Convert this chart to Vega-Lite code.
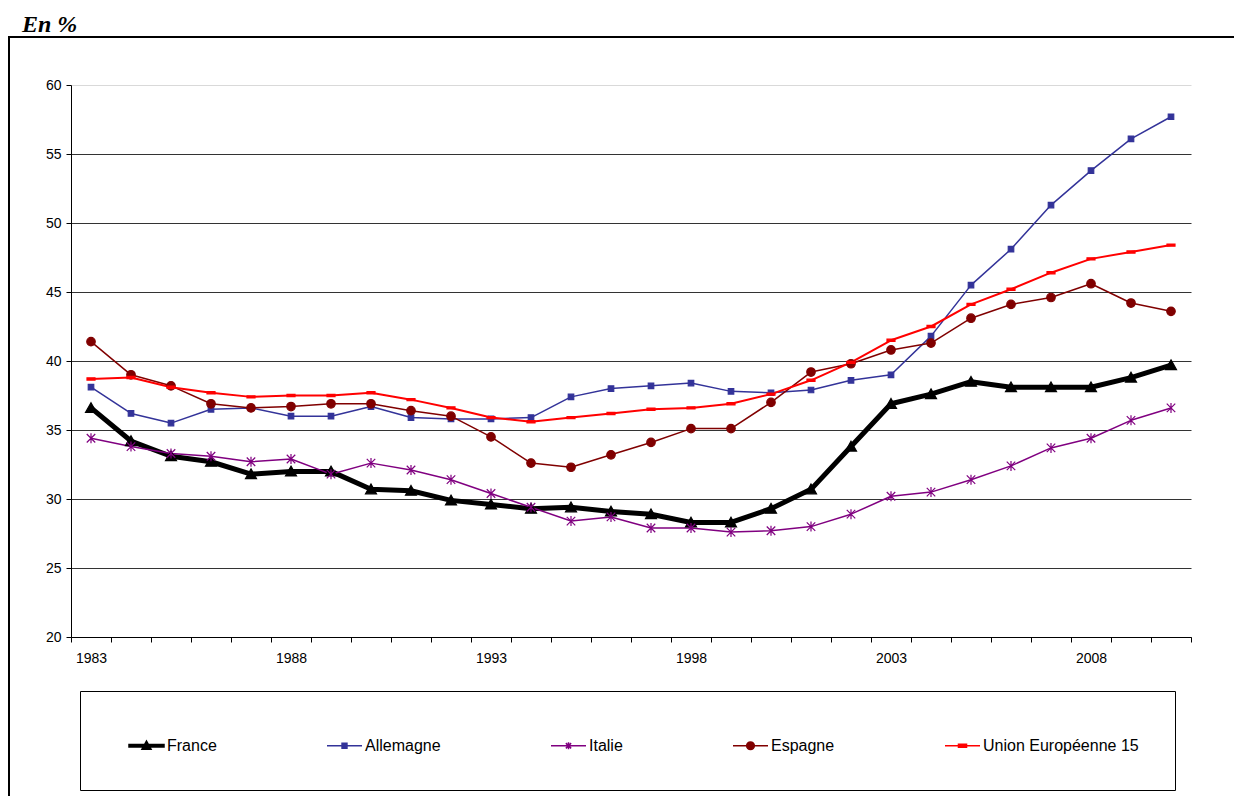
{
  "$schema": "https://vega.github.io/schema/vega-lite/v6.json",
  "width": 1225,
  "height": 759,
  "autosize": {"type": "none"},
  "padding": {"left": 9, "top": 37, "right": 0, "bottom": 0},
  "background": "white",
  "title": {"text": "En %", "anchor": "start", "frame": "group", "font": "Liberation Serif", "fontSize": 24, "fontWeight": "bold", "fontStyle": "italic", "color": "black", "dx": 13, "dy": 25, "offset": 6, "baseline": "alphabetic"},
  "config": {
    "view": {"stroke": "black", "strokeWidth": 2, "strokeDash": [1225, 1984, 760, 5000]},
    "font": "Liberation Sans"
  },
  "data": {"values": [
    {"annee":1983,"pays":"France","valeur":36.6},{"annee":1984,"pays":"France","valeur":34.2},{"annee":1985,"pays":"France","valeur":33.1},{"annee":1986,"pays":"France","valeur":32.7},{"annee":1987,"pays":"France","valeur":31.8},{"annee":1988,"pays":"France","valeur":32.0},{"annee":1989,"pays":"France","valeur":32.0},{"annee":1990,"pays":"France","valeur":30.7},{"annee":1991,"pays":"France","valeur":30.6},{"annee":1992,"pays":"France","valeur":29.9},{"annee":1993,"pays":"France","valeur":29.6},{"annee":1994,"pays":"France","valeur":29.3},{"annee":1995,"pays":"France","valeur":29.4},{"annee":1996,"pays":"France","valeur":29.1},{"annee":1997,"pays":"France","valeur":28.9},{"annee":1998,"pays":"France","valeur":28.3},{"annee":1999,"pays":"France","valeur":28.3},{"annee":2000,"pays":"France","valeur":29.3},{"annee":2001,"pays":"France","valeur":30.7},{"annee":2002,"pays":"France","valeur":33.8},{"annee":2003,"pays":"France","valeur":36.9},{"annee":2004,"pays":"France","valeur":37.6},{"annee":2005,"pays":"France","valeur":38.5},{"annee":2006,"pays":"France","valeur":38.1},{"annee":2007,"pays":"France","valeur":38.1},{"annee":2008,"pays":"France","valeur":38.1},{"annee":2009,"pays":"France","valeur":38.8},{"annee":2010,"pays":"France","valeur":39.7},
    {"annee":1983,"pays":"Allemagne","valeur":38.1},{"annee":1984,"pays":"Allemagne","valeur":36.2},{"annee":1985,"pays":"Allemagne","valeur":35.5},{"annee":1986,"pays":"Allemagne","valeur":36.5},{"annee":1987,"pays":"Allemagne","valeur":36.6},{"annee":1988,"pays":"Allemagne","valeur":36.0},{"annee":1989,"pays":"Allemagne","valeur":36.0},{"annee":1990,"pays":"Allemagne","valeur":36.7},{"annee":1991,"pays":"Allemagne","valeur":35.9},{"annee":1992,"pays":"Allemagne","valeur":35.8},{"annee":1993,"pays":"Allemagne","valeur":35.8},{"annee":1994,"pays":"Allemagne","valeur":35.9},{"annee":1995,"pays":"Allemagne","valeur":37.4},{"annee":1996,"pays":"Allemagne","valeur":38.0},{"annee":1997,"pays":"Allemagne","valeur":38.2},{"annee":1998,"pays":"Allemagne","valeur":38.4},{"annee":1999,"pays":"Allemagne","valeur":37.8},{"annee":2000,"pays":"Allemagne","valeur":37.7},{"annee":2001,"pays":"Allemagne","valeur":37.9},{"annee":2002,"pays":"Allemagne","valeur":38.6},{"annee":2003,"pays":"Allemagne","valeur":39.0},{"annee":2004,"pays":"Allemagne","valeur":41.8},{"annee":2005,"pays":"Allemagne","valeur":45.5},{"annee":2006,"pays":"Allemagne","valeur":48.1},{"annee":2007,"pays":"Allemagne","valeur":51.3},{"annee":2008,"pays":"Allemagne","valeur":53.8},{"annee":2009,"pays":"Allemagne","valeur":56.1},{"annee":2010,"pays":"Allemagne","valeur":57.7},
    {"annee":1983,"pays":"Italie","valeur":34.4},{"annee":1984,"pays":"Italie","valeur":33.8},{"annee":1985,"pays":"Italie","valeur":33.3},{"annee":1986,"pays":"Italie","valeur":33.1},{"annee":1987,"pays":"Italie","valeur":32.7},{"annee":1988,"pays":"Italie","valeur":32.9},{"annee":1989,"pays":"Italie","valeur":31.8},{"annee":1990,"pays":"Italie","valeur":32.6},{"annee":1991,"pays":"Italie","valeur":32.1},{"annee":1992,"pays":"Italie","valeur":31.4},{"annee":1993,"pays":"Italie","valeur":30.4},{"annee":1994,"pays":"Italie","valeur":29.4},{"annee":1995,"pays":"Italie","valeur":28.4},{"annee":1996,"pays":"Italie","valeur":28.7},{"annee":1997,"pays":"Italie","valeur":27.9},{"annee":1998,"pays":"Italie","valeur":27.9},{"annee":1999,"pays":"Italie","valeur":27.6},{"annee":2000,"pays":"Italie","valeur":27.7},{"annee":2001,"pays":"Italie","valeur":28.0},{"annee":2002,"pays":"Italie","valeur":28.9},{"annee":2003,"pays":"Italie","valeur":30.2},{"annee":2004,"pays":"Italie","valeur":30.5},{"annee":2005,"pays":"Italie","valeur":31.4},{"annee":2006,"pays":"Italie","valeur":32.4},{"annee":2007,"pays":"Italie","valeur":33.7},{"annee":2008,"pays":"Italie","valeur":34.4},{"annee":2009,"pays":"Italie","valeur":35.7},{"annee":2010,"pays":"Italie","valeur":36.6},
    {"annee":1983,"pays":"Espagne","valeur":41.4},{"annee":1984,"pays":"Espagne","valeur":39.0},{"annee":1985,"pays":"Espagne","valeur":38.2},{"annee":1986,"pays":"Espagne","valeur":36.9},{"annee":1987,"pays":"Espagne","valeur":36.6},{"annee":1988,"pays":"Espagne","valeur":36.7},{"annee":1989,"pays":"Espagne","valeur":36.9},{"annee":1990,"pays":"Espagne","valeur":36.9},{"annee":1991,"pays":"Espagne","valeur":36.4},{"annee":1992,"pays":"Espagne","valeur":36.0},{"annee":1993,"pays":"Espagne","valeur":34.5},{"annee":1994,"pays":"Espagne","valeur":32.6},{"annee":1995,"pays":"Espagne","valeur":32.3},{"annee":1996,"pays":"Espagne","valeur":33.2},{"annee":1997,"pays":"Espagne","valeur":34.1},{"annee":1998,"pays":"Espagne","valeur":35.1},{"annee":1999,"pays":"Espagne","valeur":35.1},{"annee":2000,"pays":"Espagne","valeur":37.0},{"annee":2001,"pays":"Espagne","valeur":39.2},{"annee":2002,"pays":"Espagne","valeur":39.8},{"annee":2003,"pays":"Espagne","valeur":40.8},{"annee":2004,"pays":"Espagne","valeur":41.3},{"annee":2005,"pays":"Espagne","valeur":43.1},{"annee":2006,"pays":"Espagne","valeur":44.1},{"annee":2007,"pays":"Espagne","valeur":44.6},{"annee":2008,"pays":"Espagne","valeur":45.6},{"annee":2009,"pays":"Espagne","valeur":44.2},{"annee":2010,"pays":"Espagne","valeur":43.6},
    {"annee":1983,"pays":"Union Européenne 15","valeur":38.7},{"annee":1984,"pays":"Union Européenne 15","valeur":38.8},{"annee":1985,"pays":"Union Européenne 15","valeur":38.1},{"annee":1986,"pays":"Union Européenne 15","valeur":37.7},{"annee":1987,"pays":"Union Européenne 15","valeur":37.4},{"annee":1988,"pays":"Union Européenne 15","valeur":37.5},{"annee":1989,"pays":"Union Européenne 15","valeur":37.5},{"annee":1990,"pays":"Union Européenne 15","valeur":37.7},{"annee":1991,"pays":"Union Européenne 15","valeur":37.2},{"annee":1992,"pays":"Union Européenne 15","valeur":36.6},{"annee":1993,"pays":"Union Européenne 15","valeur":35.9},{"annee":1994,"pays":"Union Européenne 15","valeur":35.6},{"annee":1995,"pays":"Union Européenne 15","valeur":35.9},{"annee":1996,"pays":"Union Européenne 15","valeur":36.2},{"annee":1997,"pays":"Union Européenne 15","valeur":36.5},{"annee":1998,"pays":"Union Européenne 15","valeur":36.6},{"annee":1999,"pays":"Union Européenne 15","valeur":36.9},{"annee":2000,"pays":"Union Européenne 15","valeur":37.6},{"annee":2001,"pays":"Union Européenne 15","valeur":38.6},{"annee":2002,"pays":"Union Européenne 15","valeur":39.9},{"annee":2003,"pays":"Union Européenne 15","valeur":41.5},{"annee":2004,"pays":"Union Européenne 15","valeur":42.5},{"annee":2005,"pays":"Union Européenne 15","valeur":44.1},{"annee":2006,"pays":"Union Européenne 15","valeur":45.2},{"annee":2007,"pays":"Union Européenne 15","valeur":46.4},{"annee":2008,"pays":"Union Européenne 15","valeur":47.4},{"annee":2009,"pays":"Union Européenne 15","valeur":47.9},{"annee":2010,"pays":"Union Européenne 15","valeur":48.4}
  ]},
  "encoding": {
    "x": {
      "field": "annee", "type": "ordinal", "bandPosition": 0.5,
      "scale": {"type": "band", "paddingInner": 0, "paddingOuter": 0, "range": [62, 1182]},
      "axis": {
        "title": null, "orient": "bottom", "offset": -159, "tickBand": "extent",
        "labelExpr": "(datum.value - 1983) % 5 === 0 ? datum.label : ''",
        "labelAngle": 0, "labelOverlap": false, "domainColor": "black", "domainWidth": 1,
        "tickColor": "black", "tickSize": 5, "labelFontSize": 14, "labelColor": "black",
        "labelPadding": 9, "labelFont": "Liberation Sans", "grid": false
      }
    },
    "y": {
      "field": "valeur", "type": "quantitative",
      "scale": {"domain": [20, 60], "nice": false, "zero": false, "range": [600, 48]},
      "axis": {
        "title": null, "offset": -62, "values": [20, 25, 30, 35, 40, 45, 50, 55, 60],
        "grid": true,
        "gridColor": {"condition": {"test": "datum.value === 60", "value": "#d9d9d9"}, "value": "#333333"},
        "gridWidth": 1, "domainColor": "black", "tickColor": "black", "tickSize": 5,
        "labelFontSize": 14, "labelColor": "black", "labelPadding": 5, "labelFont": "Liberation Sans"
      }
    },
    "color": {
      "field": "pays", "type": "nominal",
      "scale": {"domain": ["France", "Allemagne", "Italie", "Espagne", "Union Européenne 15"], "range": ["#000000", "#333399", "#800080", "#800000", "#FF0000"]},
      "legend": {
        "orient": "none", "legendX": 71, "legendY": 654, "direction": "horizontal", "columns": 5,
        "title": " ", "titleOrient": "left", "titleFontSize": 16, "titlePadding": 12,
        "strokeColor": "black", "padding": 36,
        "symbolSize": 1225, "symbolStrokeWidth": 1.5, "labelFontSize": 16, "labelFont": "Liberation Sans", "labelColor": "black",
        "labelOffset": 2, "columnPadding": 107, "labelLimit": 400,
        "encode": {"symbols": {"update": {
          "shape": {"signal": "datum.value === 'France' ? 'M-1,-0.07H1V0.07H-1ZM0,-0.27L0.26,0.2L-0.26,0.2Z' : datum.value === 'Allemagne' ? 'M-1,0H1M-0.14,-0.14H0.14V0.14H-0.14Z' : datum.value === 'Italie' ? 'M-1,0H1M-0.15,-0.15L0.15,0.15M-0.15,0.15L0.15,-0.15M0,-0.2V0.2' : datum.value === 'Espagne' ? 'M-1,0H1M-0.22,0A0.22,0.22 0 1,0 0.22,0A0.22,0.22 0 1,0 -0.22,0Z' : 'M-1,0H1M-0.23,-0.08H0.23V0.08H-0.23Z'"},
          "fill": {"signal": "scale('color', datum.value)"},
          "stroke": {"signal": "scale('color', datum.value)"},
          "opacity": {"value": 1},
          "fillOpacity": {"value": 1},
          "strokeOpacity": {"value": 1}
        }}}
      }
    }
  },
  "layer": [
    {
      "mark": {"type": "line", "strokeJoin": "round"},
      "encoding": {
        "strokeWidth": {"condition": [{"test": "datum.pays === 'France'", "value": 5}, {"test": "datum.pays === 'Union Européenne 15'", "value": 2}], "value": 1.5}
      }
    },
    {
      "mark": {"type": "point", "filled": true, "size": 100, "opacity": 1, "strokeWidth": 1.2},
      "encoding": {
        "shape": {"condition": [
          {"test": "datum.pays === 'France'", "value": "M0,-1.05L1.1,0.9L-1.1,0.9Z"},
          {"test": "datum.pays === 'Allemagne'", "value": "M-0.55,-0.55H0.55V0.55H-0.55Z"},
          {"test": "datum.pays === 'Italie'", "value": "M-0.85,-0.85L0.85,0.85M-0.85,0.85L0.85,-0.85M0,-1V1"},
          {"test": "datum.pays === 'Espagne'", "value": "M-0.85,0A0.85,0.85 0 1,0 0.85,0A0.85,0.85 0 1,0 -0.85,0Z"}
        ], "value": "M-0.8,-0.22H0.8V0.22H-0.8Z"},
        "stroke": {"condition": [
          {"test": "datum.pays === 'France'", "value": "#000000"},
          {"test": "datum.pays === 'Allemagne'", "value": "#333399"},
          {"test": "datum.pays === 'Italie'", "value": "#800080"},
          {"test": "datum.pays === 'Espagne'", "value": "#800000"}
        ], "value": "#FF0000"}
      }
    }
  ]
}
